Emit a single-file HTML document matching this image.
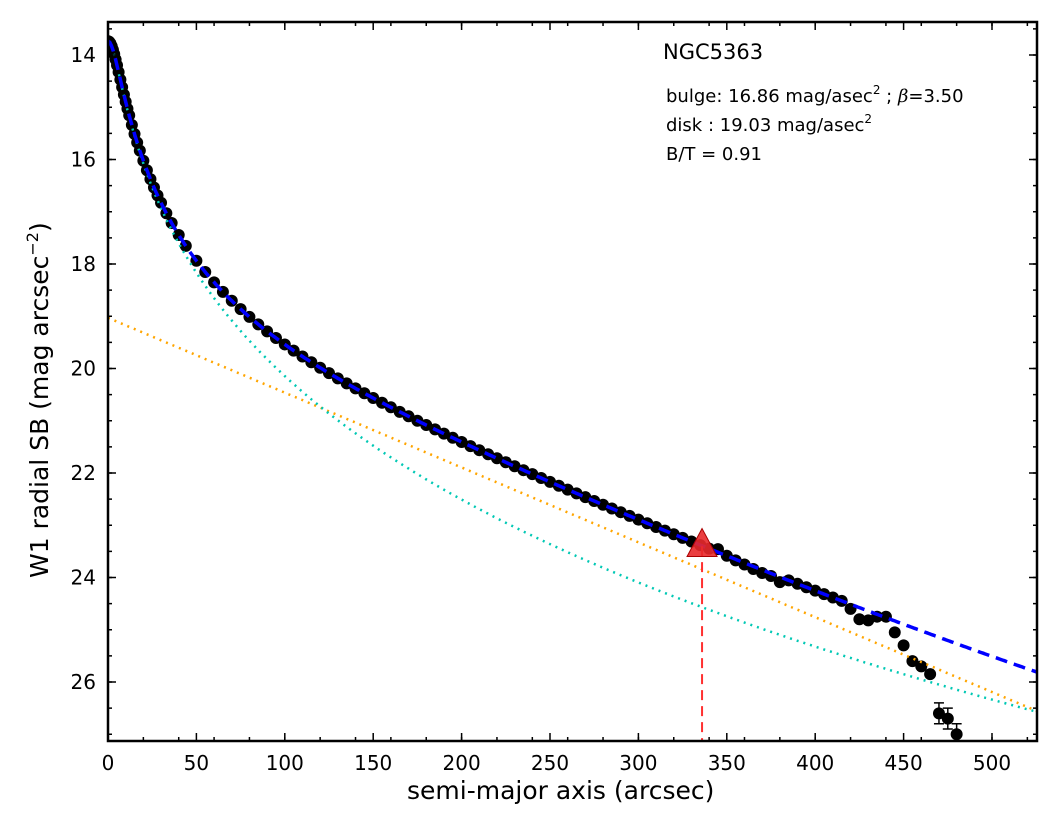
<!DOCTYPE html>
<html><head><meta charset="utf-8"><style>
body{margin:0;background:#fff;}
svg text{font-family:"DejaVu Sans","Liberation Sans",sans-serif;fill:#000;}
</style></head><body>
<svg id="s" width="1060" height="827" xmlns="http://www.w3.org/2000/svg">
<defs><clipPath id="c"><rect x="108" y="22" width="929" height="719"/></clipPath></defs>
<g id="plot" clip-path="url(#c)"></g>
<g id="ax"></g>
<text x="407" y="799" font-size="25">semi-major axis (arcsec)</text>
<text transform="translate(48,578) rotate(-90)" font-size="25">W1 radial SB (mag arcsec<tspan dy="-10" font-size="16">−2</tspan><tspan dy="10">)</tspan></text>
<text x="663" y="59" font-size="21">NGC5363</text>
<text x="666" y="102" font-size="18">bulge: 16.86 mag/asec<tspan dy="-8" font-size="12">2</tspan><tspan dy="8"> ; </tspan><tspan font-style="italic" font-family="DejaVu Serif">β</tspan>=3.50</text>
<text x="666" y="131" font-size="18">disk  : 19.03 mag/asec<tspan dy="-8" font-size="12">2</tspan></text>
<text x="666" y="160" font-size="18">B/T = 0.91</text>
</svg>
<script>
const X=r=>108+r*1.768, Y=m=>55+(m-14)*52.25;
const NS="http://www.w3.org/2000/svg";
function el(p,t,a){const e=document.createElementNS(NS,t);for(const k in a)e.setAttribute(k,a[k]);p.appendChild(e);return e;}
const P=document.getElementById('plot'),A=document.getElementById('ax');
const mb=r=>7.63+3.956*Math.pow(r*r+32.5,0.125), md=r=>19.03+r*7.52/525;
const mt=r=>-2.5*Math.log10(Math.pow(10,-0.4*mb(r))+Math.pow(10,-0.4*md(r)));
function path(f,a,b){let d='';for(let r=a;r<=b;r+=1)d+=(d?'L':'M')+X(r).toFixed(1)+','+Y(f(r)).toFixed(1);return d;}
const rs=[0,0.7,1.4,2.1,2.8,3.5,4.3,5.1,6,7,8,9,10,11,12,13.5,15,16.5,18,20,22,24,26,28,30,33,36,40,44];
for(let r=50;r<=415;r+=5)rs.push(r);
const ov={345:-0.06,350:0,355:0.02,360:0.03,365:0.05,370:0.06,375:0.05,380:0.1};
function pt(r,m){el(P,'circle',{cx:X(r),cy:Y(m),r:6,fill:'#000'});}
rs.forEach(r=>pt(r,mt(r)+(ov[r]||0)));
[[420,24.6],[425,24.8],[430,24.82],[435,24.75],[440,24.75],[445,25.05],[450,25.3],[455,25.6],[460,25.7],[465,25.85]].forEach(([r,m])=>pt(r,m));
[[470,26.6],[475,26.7],[480,27.0]].forEach(([r,m])=>{pt(r,m);el(P,'path',{d:`M${X(r)},${Y(m-0.2)}V${Y(m+0.2)}M${X(r)-5},${Y(m-0.2)}h10M${X(r)-5},${Y(m+0.2)}h10`,stroke:'#000','stroke-width':1.5});});
el(P,'path',{d:path(md,0,530),stroke:'orange',fill:'none','stroke-width':2.5,'stroke-dasharray':'2,5'});
el(P,'path',{d:path(mb,0,530),stroke:'#00c8b4',fill:'none','stroke-width':2.5,'stroke-dasharray':'2,5'});
el(P,'path',{d:path(mt,0,530),stroke:'#0000ff',fill:'none','stroke-width':3.5,'stroke-dasharray':'12,7'});
el(P,'line',{x1:X(336),x2:X(336),y1:Y(23.4),y2:741,stroke:'#ff3030','stroke-width':2,'stroke-dasharray':'10,6'});
el(P,'polygon',{points:`${X(336)},${Y(23.35)-15} ${X(336)-15},${Y(23.35)+13} ${X(336)+15},${Y(23.35)+13}`,fill:'#e8292b',stroke:'#a00','stroke-width':1,'fill-opacity':0.9});
el(A,'rect',{x:108,y:22,width:929,height:719,fill:'none',stroke:'#000','stroke-width':2.5});
for(let r=0;r<=525;r+=20){const x=X(r);el(A,'path',{d:`M${x},741v-4M${x},22v4`,stroke:'#000','stroke-width':1.5});}
for(let r=0;r<=500;r+=50){const x=X(r);el(A,'path',{d:`M${x},741v-8M${x},22v8`,stroke:'#000','stroke-width':1.5});
 const t=el(document.getElementById('s'),'text',{x:x,y:770,'font-size':20,'text-anchor':'middle'});t.textContent=r;}
for(let m=13.5;m<=27.1;m+=0.5){const y=Y(m);el(A,'path',{d:`M108,${y}h4M1037,${y}h-4`,stroke:'#000','stroke-width':1.5});}
for(let m=14;m<=26;m+=2){const y=Y(m);el(A,'path',{d:`M108,${y}h8M1037,${y}h-8`,stroke:'#000','stroke-width':1.5});
 const t=el(document.getElementById('s'),'text',{x:96,y:y+7,'font-size':20,'text-anchor':'end'});t.textContent=m;}
</script>
</body></html>
